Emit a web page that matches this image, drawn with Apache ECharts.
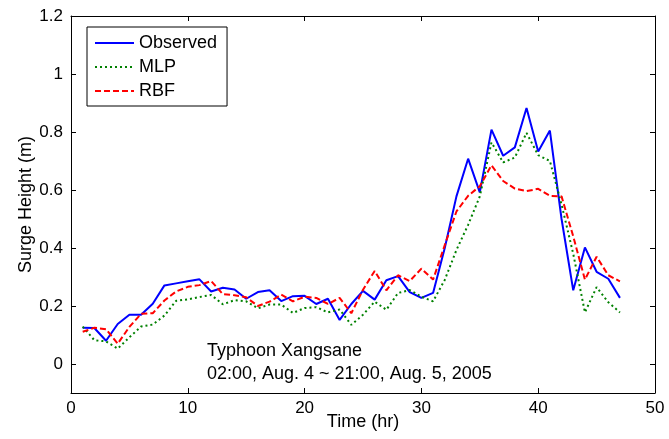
<!DOCTYPE html>
<html>
<head>
    <meta charset="utf-8">
    <title>Typhoon Xangsane surge</title>
    <script src="https://cdn.jsdelivr.net/npm/echarts@6/dist/echarts.min.js"></script>
    <style>
        html, body { margin: 0; padding: 0; background: #fff; }
        #chart1 { width: 669px; height: 439px; }
    </style>
</head>
<body>
<div id="chart1"></div>
<script>
    // hours 1..47
    var hours = [1, 2, 3, 4, 5, 6, 7, 8, 9, 10, 11, 12, 13, 14, 15, 16, 17, 18, 19, 20,
        21, 22, 23, 24, 25, 26, 27, 28, 29, 30, 31, 32, 33, 34, 35, 36, 37, 38, 39, 40,
        41, 42, 43, 44, 45, 46, 47];
    var observed = [0.125, 0.124, 0.08, 0.138, 0.17, 0.17, 0.208, 0.271, 0.278, 0.285,
        0.292, 0.25, 0.263, 0.257, 0.225, 0.248, 0.254, 0.217, 0.234, 0.235,
        0.207, 0.225, 0.152, 0.207, 0.252, 0.222, 0.289, 0.303, 0.248, 0.228,
        0.245, 0.40, 0.578, 0.708, 0.592, 0.808, 0.718, 0.747, 0.883, 0.733,
        0.805, 0.50, 0.254, 0.402, 0.318, 0.294, 0.228];
    var mlp = [0.129, 0.082, 0.078, 0.053, 0.092, 0.129, 0.136, 0.167, 0.218, 0.223,
        0.231, 0.238, 0.206, 0.22, 0.216, 0.192, 0.205, 0.205, 0.176, 0.193,
        0.196, 0.178, 0.188, 0.135, 0.17, 0.215, 0.187, 0.245, 0.255, 0.232,
        0.216, 0.29, 0.393, 0.48, 0.578, 0.764, 0.695, 0.712, 0.797, 0.72,
        0.7, 0.55, 0.38, 0.178, 0.265, 0.213, 0.178];
    var rbf = [0.111, 0.125, 0.12, 0.07, 0.128, 0.173, 0.175, 0.219, 0.25, 0.266,
        0.272, 0.286, 0.241, 0.237, 0.23, 0.2, 0.215, 0.239, 0.216, 0.232,
        0.228, 0.207, 0.228, 0.175, 0.256, 0.321, 0.254, 0.306, 0.286, 0.329,
        0.291, 0.41, 0.526, 0.58, 0.613, 0.685, 0.631, 0.605, 0.596, 0.604,
        0.58, 0.578, 0.44, 0.291, 0.37, 0.306, 0.285];
    var yTicks = [0, 0.2, 0.4, 0.6, 0.8, 1, 1.2];
    var noteLines = ['Typhoon Xangsane', '02:00, Aug. 4 ~ 21:00, Aug. 5, 2005'];

    function pairs(vals) {
        return hours.map(function (h, i) { return [h, vals[i]]; });
    }

    var font = 'Liberation Sans, Arial, sans-serif';
    var blackLine = { onZero: false, lineStyle: { color: '#000', width: 1 } };
    var tickOn = { show: true, inside: true, length: 5, lineStyle: { color: '#000' } };
    var yTickOn = { show: true, inside: true, length: 5, lineStyle: { color: '#000' }, customValues: yTicks };

    var myChart1 = echarts.init(document.getElementById('chart1'));
    myChart1.setOption({
        animation: false,
        backgroundColor: '#fff',
        textStyle: { fontFamily: font },
        grid: { left: 71, right: 14, top: 16, bottom: 46 },
        legend: {
            orient: 'vertical',
            left: 87,
            top: 27,
            padding: [7, 10, 6, 7],
            itemGap: 6,
            itemWidth: 39,
            itemHeight: 14,
            borderColor: '#000',
            borderWidth: 1,
            borderRadius: 0,
            backgroundColor: '#fff',
            itemStyle: { opacity: 0 },
            textStyle: { fontFamily: font, fontSize: 18, color: '#000' },
            data: ['Observed', 'MLP', 'RBF']
        },
        xAxis: [{
            type: 'value',
            min: 0, max: 50, interval: 10,
            name: 'Time (hr)',
            nameLocation: 'middle',
            nameGap: 20,
            nameMoveOverlap: false,
            nameTextStyle: { fontFamily: font, fontSize: 18, color: '#000' },
            axisLine: blackLine,
            axisTick: tickOn,
            axisLabel: { fontFamily: font, fontSize: 17, color: '#000', margin: 7 },
            splitLine: { show: false }
        }, {
            type: 'value', position: 'top',
            min: 0, max: 50, interval: 10,
            axisLine: blackLine,
            axisTick: tickOn,
            axisLabel: { show: false },
            splitLine: { show: false }
        }],
        yAxis: [{
            type: 'value',
            min: -0.1, max: 1.2,
            name: 'Surge Height (m)',
            nameLocation: 'middle',
            nameGap: 36,
            nameMoveOverlap: false,
            nameTextStyle: { fontFamily: font, fontSize: 18, color: '#000' },
            axisLine: { show: true, onZero: false, lineStyle: { color: '#000', width: 1 } },
            axisTick: yTickOn,
            axisLabel: { fontFamily: font, fontSize: 17, color: '#000', margin: 8, customValues: yTicks },
            splitLine: { show: false }
        }, {
            type: 'value', position: 'right',
            min: -0.1, max: 1.2,
            axisLine: { show: true, onZero: false, lineStyle: { color: '#000', width: 1 } },
            axisTick: yTickOn,
            axisLabel: { show: false, customValues: yTicks },
            splitLine: { show: false }
        }],
        graphic: [{
            type: 'text',
            left: 207,
            top: 340,
            style: {
                text: noteLines.join('\n'),
                fontFamily: font,
                fontSize: 18,
                lineHeight: 23,
                fill: '#000'
            }
        }],
        series: [{
            name: 'Observed',
            type: 'line',
            data: pairs(observed),
            symbol: 'none',
            itemStyle: { color: '#0000ff' },
            lineStyle: { color: '#0000ff', width: 2 }
        }, {
            name: 'MLP',
            type: 'line',
            data: pairs(mlp),
            symbol: 'none',
            itemStyle: { color: '#008000' },
            lineStyle: { color: '#008000', width: 2, type: [2, 3] }
        }, {
            name: 'RBF',
            type: 'line',
            data: pairs(rbf),
            symbol: 'none',
            itemStyle: { color: '#ff0000' },
            lineStyle: { color: '#ff0000', width: 2, type: [6, 3] }
        }]
    });
</script>
</body>
</html>
